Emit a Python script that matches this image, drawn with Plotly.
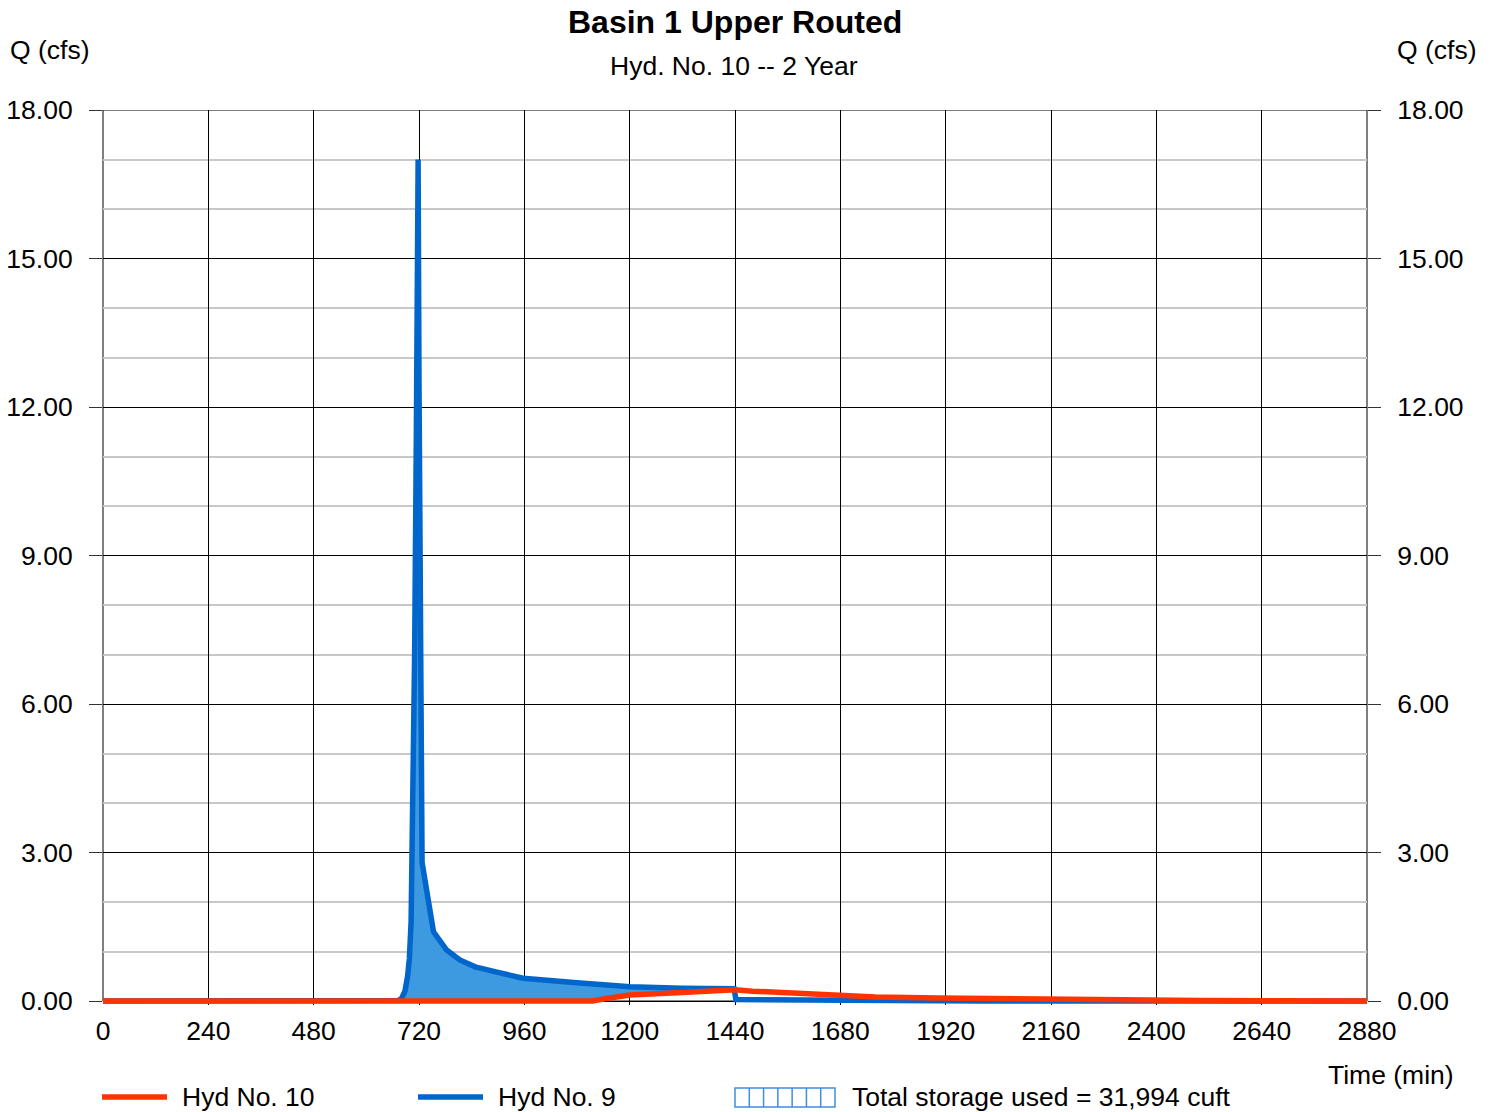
import numpy as np
import plotly.graph_objects as go

# Inflow hydrograph (Hyd No. 9): time (min), flow (cfs)
inflow_t = [0, 660, 672, 680, 688, 694, 698, 702, 706, 710, 714, 716, 718, 720, 722, 724, 727,
            753, 770, 783, 813, 848, 900, 957, 1080, 1201, 1320, 1438, 1442, 1500, 1600, 1800,
            2000, 2880]
inflow_q = [0.0, 0.0, 0.01, 0.05, 0.2, 0.5, 0.85, 1.6, 3.6, 7.0, 11.5, 14.5, 17.0, 12.5, 8.0, 4.5, 2.8,
            1.40, 1.17, 1.03, 0.83, 0.69, 0.58, 0.46, 0.37, 0.29, 0.26, 0.25, 0.03, 0.03, 0.02, 0.01,
            0.0, 0.0]

# Routed outflow hydrograph (Hyd No. 10)
outflow_t = [0, 1115, 1140, 1200, 1320, 1440, 1480, 1600, 1760, 1900, 2100, 2300, 2500, 2880]
outflow_q = [0.0, 0.0, 0.04, 0.12, 0.17, 0.23, 0.20, 0.14, 0.08, 0.06, 0.04, 0.02, 0.01, 0.0]

x_ticks = [0, 240, 480, 720, 960, 1200, 1440, 1680, 1920, 2160, 2400, 2640, 2880]
y_ticks = [0, 3, 6, 9, 12, 15, 18]

title_text = "Basin 1 Upper Routed"
subtitle_text = "Hyd. No. 10 -- 2 Year"
legend_labels = ["Hyd No. 10", "Hyd No. 9", "Total storage used = 31,994 cuft"]

RED = "#FF3300"
BLUE = "#0066CC"
FILL = "#3D9AE0"
HATCH = "#3F8FDA"
FONT = "Liberation Sans, Arial, sans-serif"
FS = 26.5
LW = 5.5

W, H = 1494, 1112
L, R, T, B = 103, 1367, 110, 1005  # plot area in pixels


def px(xp):
    return (xp - L) / (R - L)


def py(yp):
    return (B - yp) / (B - T)


# storage = area between inflow and outflow where inflow exceeds outflow
base_q = np.minimum(np.interp(inflow_t, outflow_t, outflow_q), inflow_q)

fig = go.Figure()
fig.add_trace(go.Scatter(x=inflow_t, y=base_q, mode="lines", line=dict(width=0, color=FILL),
                         hoverinfo="skip", showlegend=False))
fig.add_trace(go.Scatter(x=inflow_t, y=inflow_q, mode="lines", fill="tonexty", fillcolor=FILL,
                         line=dict(width=0), hoverinfo="skip", showlegend=False))
fig.add_trace(go.Scatter(x=inflow_t, y=inflow_q, mode="lines", name=legend_labels[1],
                         line=dict(color=BLUE, width=LW), showlegend=False))
fig.add_trace(go.Scatter(x=outflow_t, y=outflow_q, mode="lines", name=legend_labels[0],
                         line=dict(color=RED, width=LW), showlegend=False))
# invisible trace to drive the right-hand axis
fig.add_trace(go.Scatter(x=[0], y=[0], yaxis="y2", mode="markers", marker=dict(opacity=0),
                         hoverinfo="skip", showlegend=False))

yrange = [-0.08, 18]
tick_txt = [f"{v:.2f}" for v in y_ticks]

fig.update_layout(
    width=W, height=H,
    margin=dict(l=L, r=W - R, t=T, b=H - B, pad=0, autoexpand=False),
    paper_bgcolor="white", plot_bgcolor="white",
    font=dict(family=FONT, size=FS, color="black"),
    showlegend=False,
    xaxis=dict(range=[0, 2880], tickvals=x_ticks, ticktext=[str(v) for v in x_ticks],
               showgrid=True, gridcolor="black", gridwidth=1, zeroline=False,
               showline=False, ticks="", ticklabelstandoff=7, automargin=False,
               tickfont=dict(size=FS)),
    yaxis=dict(range=yrange, tickvals=y_ticks, ticktext=tick_txt, automargin=False,
               showgrid=True, gridcolor="black", gridwidth=1, zeroline=False,
               showline=False, ticks="outside", ticklen=13, tickcolor="#333", tickwidth=1,
               ticklabelstandoff=11, tickfont=dict(size=FS),
               minor=dict(tickvals=[v for v in range(1, 18) if v % 3], showgrid=True,
                          gridcolor="#C8C8C8", gridwidth=2, ticks="")),
    yaxis2=dict(range=yrange, tickvals=y_ticks, ticktext=tick_txt, overlaying="y", side="right",
                showgrid=False, zeroline=False, showline=False, ticks="outside", ticklen=13,
                automargin=False, tickcolor="#333", tickwidth=1, ticklabelstandoff=11,
                tickfont=dict(size=FS)),
)

shapes = []
# plot frame (left, right, top, baseline)
shapes.append(dict(type="line", xref="paper", yref="y", x0=0, x1=0, y0=0, y1=18,
                   line=dict(color="black", width=1), layer="below"))
shapes.append(dict(type="line", xref="paper", yref="y", x0=1, x1=1, y0=0, y1=18,
                   line=dict(color="black", width=1), layer="below"))
shapes.append(dict(type="line", xref="paper", yref="y", x0=0, x1=1, y0=18, y1=18,
                   line=dict(color="black", width=1), layer="below"))
shapes.append(dict(type="line", xref="paper", yref="y", x0=0, x1=1, y0=0, y1=0,
                   line=dict(color="black", width=1), layer="below"))

# legend symbols
ly = py(1097)
shapes.append(dict(type="line", xref="paper", yref="paper", x0=px(102), x1=px(167), y0=ly, y1=ly,
                   line=dict(color=RED, width=LW)))
shapes.append(dict(type="line", xref="paper", yref="paper", x0=px(418), x1=px(483), y0=ly, y1=ly,
                   line=dict(color=BLUE, width=LW)))
bx0, bx1, by0, by1 = 735, 835, 1088, 1107
shapes.append(dict(type="rect", xref="paper", yref="paper", x0=px(bx0), x1=px(bx1),
                   y0=py(by1), y1=py(by0), line=dict(color=HATCH, width=1.5)))
for k in range(1, 7):
    xx = bx0 + k * (bx1 - bx0) / 7
    shapes.append(dict(type="line", xref="paper", yref="paper", x0=px(xx), x1=px(xx),
                       y0=py(by1), y1=py(by0), line=dict(color=HATCH, width=1.5)))
fig.update_layout(shapes=shapes)

ann = [
    dict(text=f"<b>{title_text}</b>", x=px(735), y=py(22), font=dict(size=32)),
    dict(text=subtitle_text, x=px(734), y=py(66), font=dict(size=FS)),
    dict(text="Q (cfs)", x=px(50), y=py(50), font=dict(size=FS)),
    dict(text="Q (cfs)", x=px(1437), y=py(50), font=dict(size=FS)),
    dict(text="Time (min)", x=px(1391), y=py(1075), font=dict(size=FS)),
    dict(text=legend_labels[0], x=px(180), y=py(1097), xanchor="left", font=dict(size=FS)),
    dict(text=legend_labels[1], x=px(496), y=py(1097), xanchor="left", font=dict(size=FS)),
    dict(text=legend_labels[2], x=px(850), y=py(1097), xanchor="left", font=dict(size=FS)),
]
for a in ann:
    a.setdefault("xanchor", "center")
    a.update(xref="paper", yref="paper", yanchor="middle", showarrow=False)
fig.update_layout(annotations=ann)

fig.write_html("out.html")
